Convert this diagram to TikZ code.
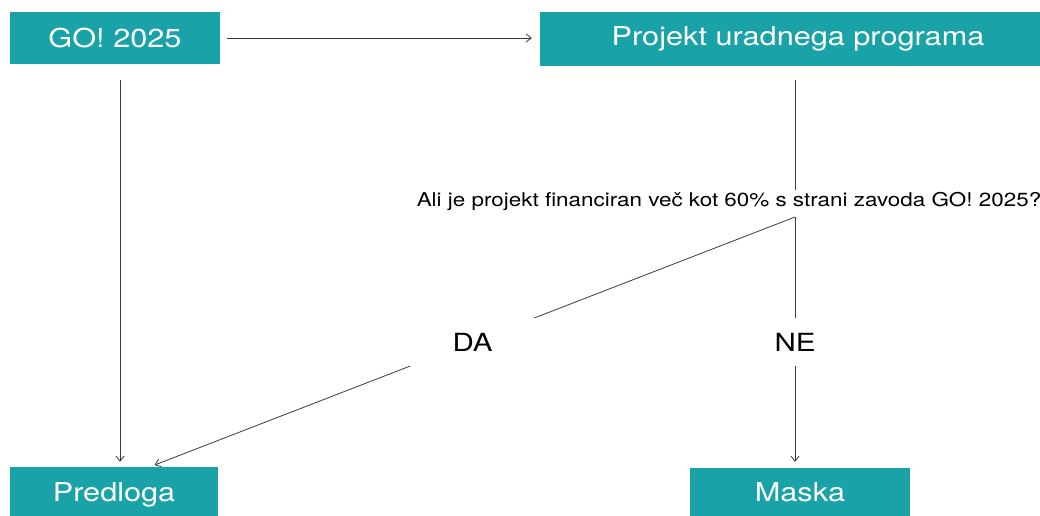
\documentclass[tikz,border=0pt]{standalone}
\usepackage{fontspec}
\setmainfont{TeX Gyre Heros}[FakeStretch=1.18]
\usetikzlibrary{arrows.meta}
\definecolor{teal1}{HTML}{19A3A8}
\definecolor{linec}{HTML}{3A3A3A}
\tikzset{
  box/.style={fill=teal1, text=white, font=\fontsize{26}{30}\selectfont, inner sep=0pt, anchor=center},
  conn/.style={draw=linec, line width=0.8pt},
  arr/.style={conn, -{Straight Barb[length=5pt,width=8pt]}},
  lab/.style={fill=white, text=black, font=\fontsize{25}{30}\selectfont, minimum width=128pt, minimum height=48pt, inner sep=0pt},
  quest/.style={text=black, font=\fontsize{19}{22}\selectfont, inner sep=2pt}
}
\begin{document}
\begin{tikzpicture}[x=1pt,y=-1pt]
\useasboundingbox (0,0) rectangle (1040,515);
\clip (0,0) rectangle (1040,515);
\node[box, minimum width=210pt, minimum height=52pt] (go) at (115,38) {GO! 2025};
\node[box, minimum width=516pt, minimum height=54pt] (proj) at (798,39) {Projekt uradnega programa};
\node[box, minimum width=208pt, minimum height=56pt] (pred) at (114,495) {Predloga};
\node[box, minimum width=220pt, minimum height=48pt] (mask) at (800,492) {Maska};
\node[quest] (q) at (729,201) {Ali je projekt financiran več kot 60\% s strani zavoda GO! 2025?};
\coordinate (b) at (795,217);
\coordinate (gx) at (120,0);
\draw[arr, shorten <=7pt, shorten >=8pt] (go.east) -- (go.east -| proj.west);
\draw[arr, shorten <=16pt, shorten >=5pt] (go.south -| gx) -- (pred.north -| gx);
\draw[conn, shorten <=14pt] (proj.south -| b) -- (q.north -| b);
\draw[arr, shorten >=6pt] (b) -- node[lab]{NE} (b |- mask.north);
\draw[arr, shorten >=5pt] (b) -- node[lab]{DA} ([xshift=36pt]pred.north);
\end{tikzpicture}
\end{document}
